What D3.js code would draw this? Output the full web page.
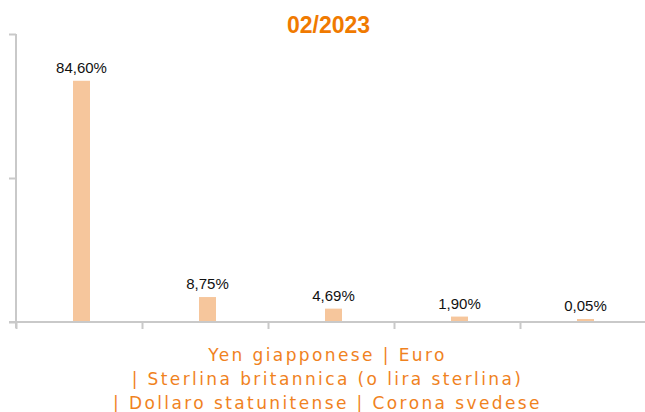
<!DOCTYPE html>
<html>
  <head>
    <meta charset="utf-8">
    <title>02/2023</title>
    <script src="https://d3js.org/d3.v7.min.js"></script>
    <style>
      body { margin: 0; background: #fff; }
      #chart { width: 645px; height: 412px; }
      .xtitle { font-family: "DejaVu Sans", Verdana, sans-serif; font-size: 17px; letter-spacing: 2.4px; }
      .sans { font-family: "Liberation Sans", Arial, Helvetica, sans-serif; }
    </style>
  </head>
  <body>
    <div id="chart"></div>
    <script>
      // data
      const categories = ["Yen giapponese", "Euro", "Sterlina britannica (o lira sterlina)", "Dollaro statunitense", "Corona svedese"];
      const values = [84.60, 8.75, 4.69, 1.90, 0.05];
      const valueLabels = ["84,60%", "8,75%", "4,69%", "1,90%", "0,05%"];
      const titleText = "02/2023";
      const xTitleLines = ["Yen giapponese | Euro", "| Sterlina britannica (o lira sterlina)", "| Dollaro statunitense | Corona svedese"];
      const yMax = 101;

      const width = 645, height = 412;
      const plotLeft = 16.5, plotRight = 646.5, plotTop = 34, plotBottom = 322;
      const axisColor = "#c9c9c9";
      const orange = "#f07a00";

      const svg = d3.select("#chart").append("svg")
          .attr("width", width)
          .attr("height", height);

      const x = d3.scaleBand()
          .domain(categories)
          .range([plotLeft, plotRight]);

      const y = d3.scaleLinear()
          .domain([0, yMax])
          .range([plotBottom, plotTop]);

      // title
      svg.append("text")
          .attr("class", "sans")
          .attr("x", 328.5)
          .attr("y", 33)
          .attr("text-anchor", "middle")
          .attr("font-weight", "bold")
          .attr("font-size", 23)
          .attr("fill", orange)
          .text(titleText);

      // bars
      const barW = 17;
      svg.selectAll(".bar")
          .data(values)
          .enter().append("rect")
          .attr("class", "bar")
          .attr("x", (d, i) => x(categories[i]) + (x.bandwidth() - barW) / 2 + 2)
          .attr("y", d => Math.min(y(d), plotBottom - 3))
          .attr("width", barW)
          .attr("height", d => Math.max(plotBottom - y(d), 3))
          .attr("fill", "#f6c69c");

      // value labels
      svg.selectAll(".lbl")
          .data(values)
          .enter().append("text")
          .attr("class", "lbl sans")
          .attr("x", (d, i) => x(categories[i]) + x.bandwidth() / 2 + 2)
          .attr("y", d => Math.min(y(d), plotBottom - 3) - 8)
          .attr("text-anchor", "middle")
          .attr("font-size", 15)
          .attr("fill", "#111")
          .text((d, i) => valueLabels[i]);

      // y axis, ticks without labels
      const yAxis = d3.axisLeft(y)
          .tickValues([0, yMax / 2, yMax])
          .tickSize(7)
          .tickFormat("");
      const gy = svg.append("g")
          .attr("transform", "translate(16,0)")
          .call(yAxis);
      gy.select(".domain").attr("d", `M0,${plotTop}V${plotBottom + 6}`);

      // x axis, ticks on band boundaries
      const gx = svg.append("g")
          .attr("transform", `translate(0,${plotBottom})`);
      gx.append("line")
          .attr("x1", 9).attr("x2", width)
          .attr("y1", 0).attr("y2", 0);
      gx.selectAll(".xt")
          .data(categories)
          .enter().append("line")
          .attr("class", "xt")
          .attr("x1", d => x(d)).attr("x2", d => x(d))
          .attr("y1", 0).attr("y2", 7);

      svg.selectAll("g line, g path")
          .attr("stroke", axisColor)
          .attr("stroke-width", 2)
          .attr("fill", "none");

      // x axis title
      svg.append("text")
          .attr("class", "xtitle")
          .attr("text-anchor", "middle")
          .attr("fill", "#f0821e")
          .selectAll("tspan")
          .data(xTitleLines)
          .enter().append("tspan")
          .attr("x", 327.5)
          .attr("y", (d, i) => 361 + i * 24)
          .text(d => d);
    </script>
  </body>
</html>
